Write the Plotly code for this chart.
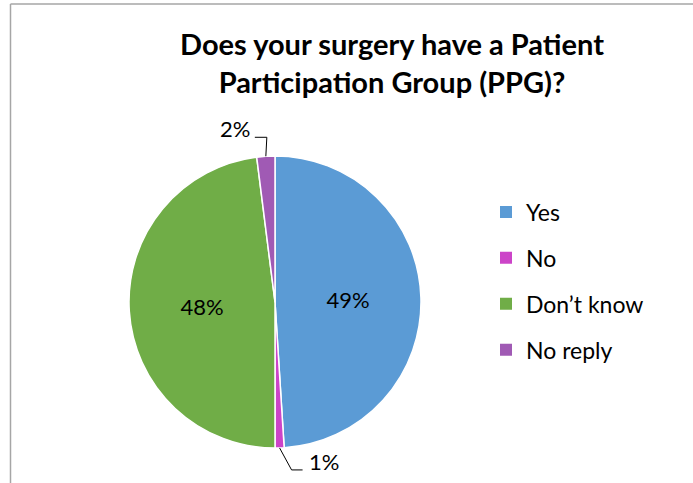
import math
import plotly.graph_objects as go

# chart data
labels = ["Yes", "No", "Don\u2019t know", "No reply"]
values = [49, 1, 48, 2]
colors = ["#5B9BD5", "#CC44C8", "#70AD47", "#A05AB4"]

title_text = "<b>Does your surgery have a Patient<br>Participation Group (PPG)?</b>"

W, H = 693, 483
font_name = "Lato"

# pie box in pixels (left, top, right, bottom)
pie_box = (129, 156, 421, 448)
cx = (pie_box[0] + pie_box[2]) / 2
cy = (pie_box[1] + pie_box[3]) / 2
rad = (pie_box[2] - pie_box[0]) / 2

# small slices get an outside label with an elbow leader line
# (elbow offset, line end offset, label offset, label anchor) from the slice edge
leaders = {
    "No": ((12, 22), (23, 22), (27, 14), "left"),
    "No reply": ((1, -19), (-11, -19), (-14, -28), "right"),
}


def px(x, y):
    return x / W, 1 - y / H


fig = go.Figure()

fig.add_trace(go.Pie(
    labels=labels,
    values=values,
    sort=False,
    direction="clockwise",
    rotation=0,
    marker=dict(colors=colors, line=dict(color="white", width=1.5)),
    texttemplate=["%{percent:.0%}" if l not in leaders else "" for l in labels],
    textposition="inside",
    insidetextorientation="horizontal",
    textfont=dict(family=font_name, size=22, color="black"),
    domain=dict(x=[pie_box[0] / W, pie_box[2] / W], y=[1 - pie_box[3] / H, 1 - pie_box[1] / H]),
    showlegend=False,
))

total = sum(values)
cum = 0
for lab, v in zip(labels, values):
    mid = (cum + v / 2) / total * 2 * math.pi
    cum += v
    if lab not in leaders:
        continue
    ex, ey = cx + rad * math.sin(mid), cy - rad * math.cos(mid)
    (k1x, k1y), (k2x, k2y), (tx, ty), anchor = leaders[lab]
    pts = [px(ex, ey), px(ex + k1x, ey + k1y), px(ex + k2x, ey + k2y)]
    path = "M {} {} L {} {} L {} {}".format(*[c for p in pts for c in p])
    fig.add_shape(type="path", xref="paper", yref="paper", path=path,
                  line=dict(color="black", width=1))
    lx, ly = px(ex + tx, ey + ty)
    fig.add_annotation(x=lx, y=ly, xref="paper", yref="paper", showarrow=False,
                       xanchor=anchor, yanchor="middle",
                       text="{:.0f}%".format(v / total * 100),
                       font=dict(family=font_name, size=22, color="black"))

# legend entries, one per slice so the gap between them can be set
for lab, col in zip(labels, colors):
    fig.add_trace(go.Scatter(
        x=[None], y=[None], mode="markers", name=lab, legendgroup=lab,
        marker=dict(symbol="square", size=12, color=col),
    ))

# frame of the chart area
fig.add_shape(type="line", xref="paper", yref="paper", x0=10.5 / W, x1=1.01,
              y0=1 - 4 / H, y1=1 - 4 / H, line=dict(color="#A6A6A6", width=1.5))
fig.add_shape(type="line", xref="paper", yref="paper", x0=10.5 / W, x1=10.5 / W,
              y0=-0.01, y1=1 - 4 / H, line=dict(color="#A6A6A6", width=1.5))

fig.update_layout(
    width=W, height=H,
    margin=dict(l=0, r=0, t=0, b=0),
    paper_bgcolor="white", plot_bgcolor="white",
    font=dict(family=font_name, color="black"),
    title=dict(text=title_text, x=392 / W, xanchor="center", y=1 - 55 / H, yanchor="top",
               font=dict(family=font_name, size=29, color="black")),
    xaxis=dict(visible=False), yaxis=dict(visible=False),
    legend=dict(x=486 / W, xanchor="left", y=1 - 281 / H, yanchor="middle",
                font=dict(family=font_name, size=23, color="black"),
                tracegroupgap=13, bgcolor="rgba(0,0,0,0)"),
)

fig.write_html("out.html", config={"displayModeBar": False},
               post_script="document.body.style.margin='0';")
